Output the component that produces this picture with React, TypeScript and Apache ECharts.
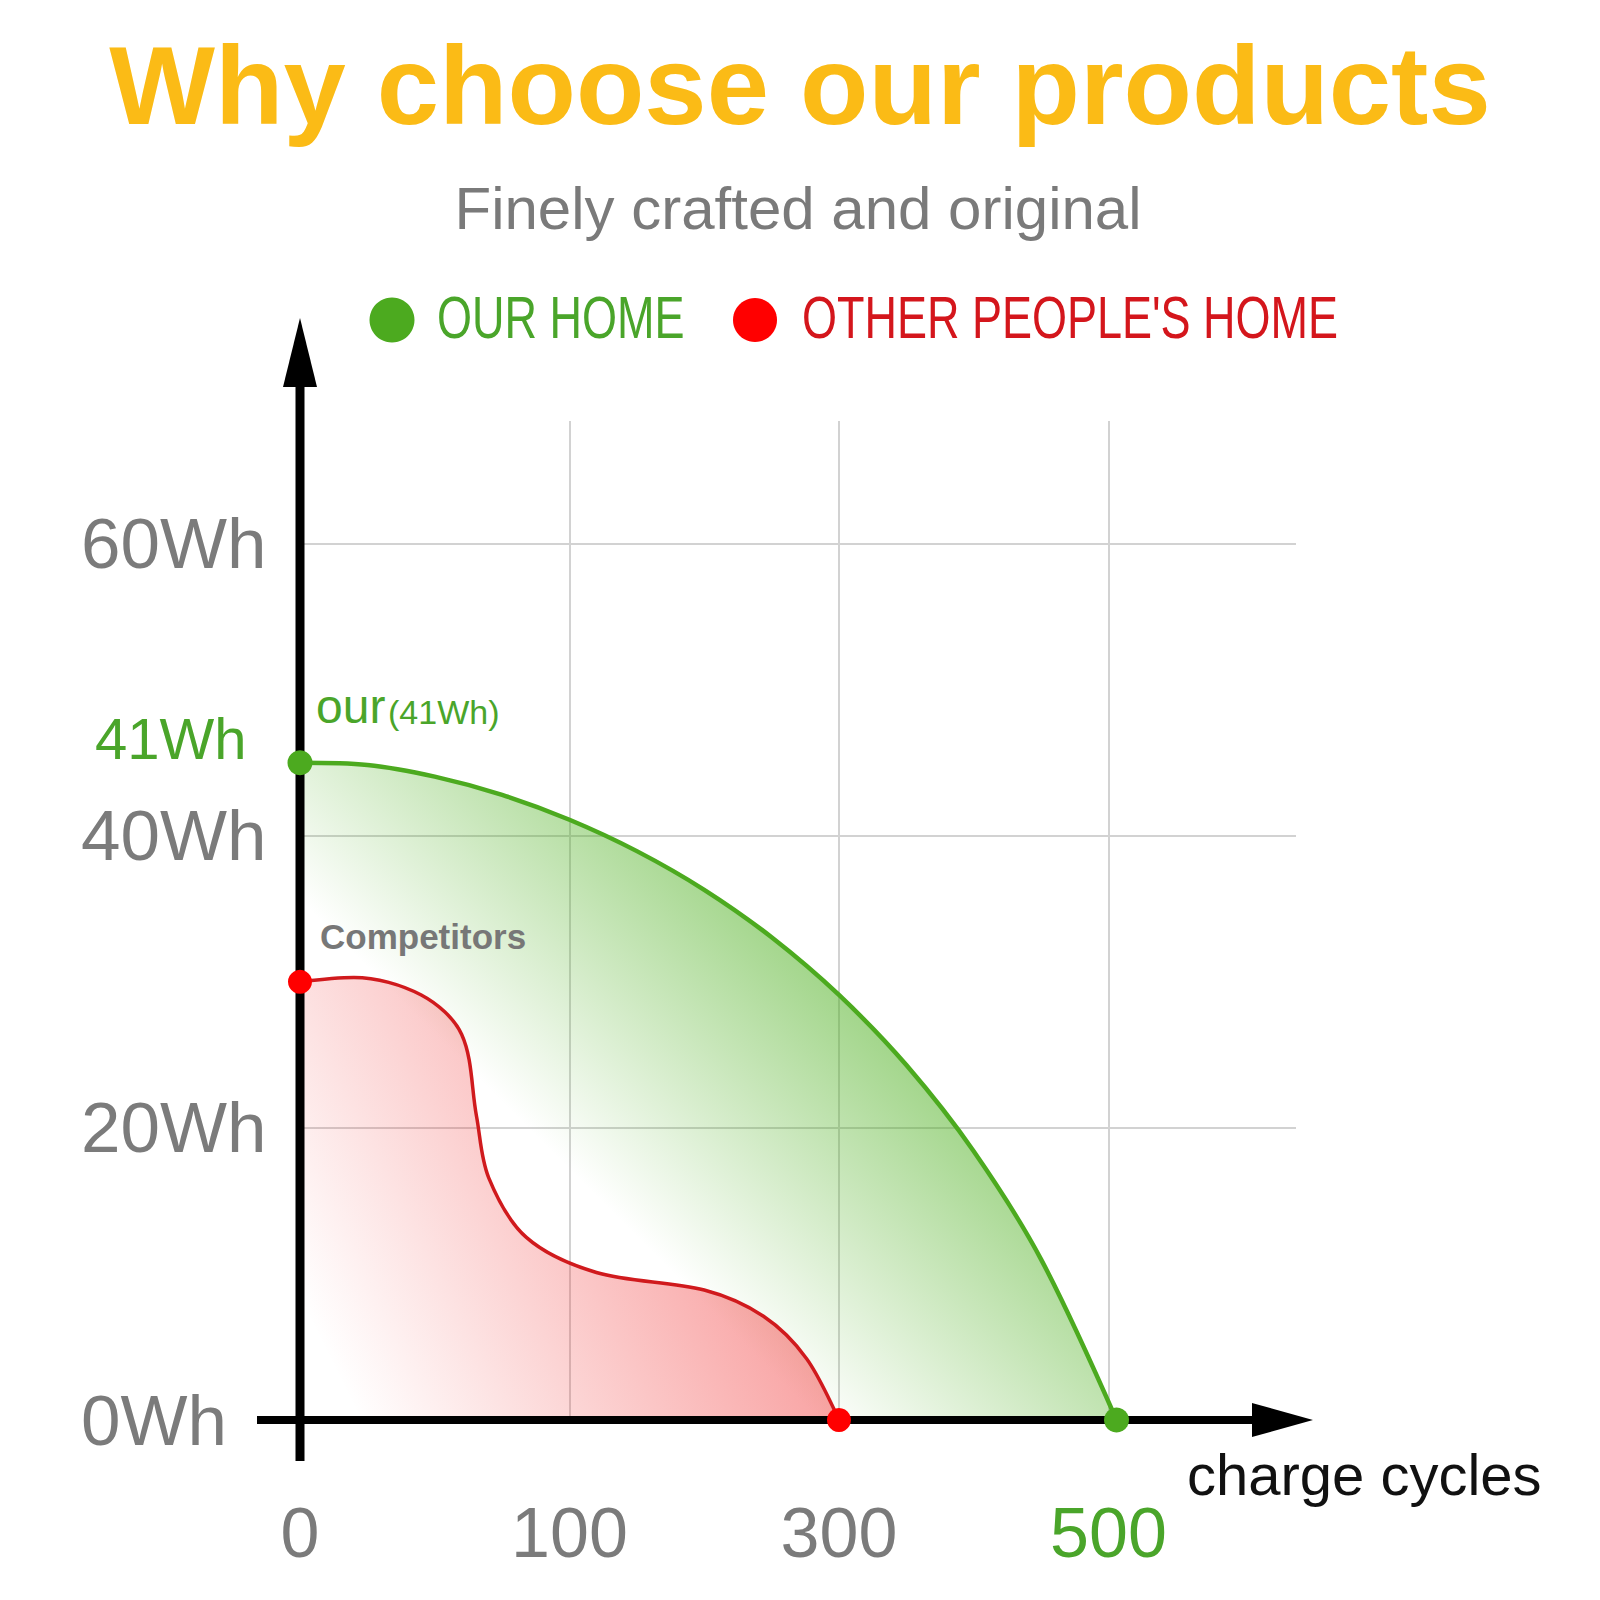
import React, { useEffect, useRef } from "react";
import * as echarts from "echarts";

// Tick labels (x axis is drawn in tick slots: slot 0 -> "0", 1 -> "100", 2 -> "300", 3 -> "500")
const xTickLabels = ["0", "100", "300", "500"];
const yTickLabels = ["0Wh", "20Wh", "40Wh", "60Wh"];
const seriesNames = ["OUR HOME", "OTHER PEOPLE'S HOME"];

// OUR HOME curve (x in tick slots, y in Wh as drawn)
const ourX = [0, 0.25, 0.5, 0.75, 1.0, 1.25, 1.5, 1.75, 2.0, 2.25, 2.5, 2.75, 3.03];
const ourWh = [45, 44.85, 44.05, 42.8, 41.1, 38.95, 36.3, 33.05, 29.1, 24.3, 18.4, 11.0, 0];

// OTHER PEOPLE'S HOME curve
const theirX = [0, 0.2, 0.45, 0.6, 0.655, 0.7, 0.84, 1.1, 1.5, 1.72, 1.88, 2.0];
const theirWh = [30, 30.3, 29.1, 26.4, 20.8, 16.6, 12.5, 10.1, 8.9, 7.1, 4.2, 0];

export default function App() {
  const ref = useRef<HTMLDivElement>(null);

  useEffect(() => {
    document.body.style.margin = "0";
    const chart = echarts.init(ref.current!, null, { renderer: "svg" });
    const font = "'Liberation Sans', Arial, Helvetica, sans-serif";
    const gray = "#7b7b7b";
    const green = "#4caa1f";
    const greenText = "#4aa52a";
    const red = "#ff0000";
    const redLine = "#d01a1d";
    const redText = "#d4161c";
    const n1 = ourX.length - 1;
    const n2 = theirX.length - 1;

    const txt = (text: string, x: number, y: number, size: number, fill: string, extra: any = {}, el: any = {}) => ({
      type: "text",
      x,
      y,
      z: 20,
      ...el,
      style: {
        text,
        fill,
        fontSize: size,
        fontFamily: font,
        align: "left",
        verticalAlign: "middle",
        ...extra,
      },
    });

    chart.setOption({
      animation: false,
      backgroundColor: "#ffffff",
      grid: { left: 300, top: 421, width: 996, height: 999, outerBoundsMode: "none" },
      xAxis: {
        type: "value",
        min: 0,
        max: 3.696,
        interval: 1,
        axisLine: { show: false },
        axisTick: { show: false },
        splitLine: {
          show: true,
          showMinLine: false,
          showMaxLine: false,
          lineStyle: { color: "#d2d2d2", width: 2 },
        },
        axisLabel: {
          showMaxLabel: false,
          margin: 78,
          formatter: (v: number) => {
            const i = Math.round(v);
            if (Math.abs(v - i) > 1e-6 || !xTickLabels[i]) return "";
            return i === xTickLabels.length - 1 ? `{g|${xTickLabels[i]}}` : `{d|${xTickLabels[i]}}`;
          },
          rich: {
            d: { fontSize: 70, color: gray, fontFamily: font, lineHeight: 70 },
            g: { fontSize: 70, color: greenText, fontFamily: font, lineHeight: 70 },
          },
        },
      },
      yAxis: {
        type: "value",
        min: 0,
        max: 68.4,
        interval: 20,
        axisLine: { show: false },
        axisTick: { show: false },
        splitLine: {
          show: true,
          showMinLine: false,
          showMaxLine: false,
          lineStyle: { color: "#d2d2d2", width: 2 },
        },
        axisLabel: {
          showMaxLabel: false,
          align: "left",
          margin: 219,
          fontSize: 71,
          color: gray,
          fontFamily: font,
          formatter: (v: number) => {
            const i = Math.round(v / 20);
            if (Math.abs(v - i * 20) > 1e-6) return "";
            return yTickLabels[i] ?? "";
          },
        },
      },
      series: [
        {
          name: seriesNames[0],
          type: "line",
          data: ourX.map((x, i) => [x, ourWh[i]]),
          smooth: 0.33,
          symbol: "none",
          z: 2,
          lineStyle: { color: green, width: 4.5 },
          areaStyle: {
            opacity: 1,
            color: {
              type: "linear",
              x: 300,
              y: 900,
              x2: 525,
              y2: 675,
              global: true,
              colorStops: [
                { offset: 0, color: "rgba(76,175,30,0)" },
                { offset: 1, color: "rgba(76,175,30,0.52)" },
              ],
            },
          },
        },
        {
          name: seriesNames[1],
          type: "line",
          data: theirX.map((x, i) => [x, theirWh[i]]),
          smooth: 0.33,
          symbol: "none",
          z: 3,
          lineStyle: { color: redLine, width: 3.5 },
          areaStyle: {
            opacity: 1,
            color: {
              type: "linear",
              x: 340,
              y: 1380,
              x2: 720,
              y2: 1190,
              global: true,
              colorStops: [
                { offset: 0, color: "rgba(240,40,40,0)" },
                { offset: 1, color: "rgba(240,40,40,0.42)" },
              ],
            },
          },
        },
        {
          name: seriesNames[0] + " ends",
          type: "scatter",
          z: 10,
          symbolSize: 25,
          itemStyle: { color: green, opacity: 1 },
          data: [
            [ourX[0], ourWh[0]],
            [ourX[n1], ourWh[n1]],
          ],
        },
        {
          name: seriesNames[1] + " ends",
          type: "scatter",
          z: 10,
          symbolSize: 24,
          itemStyle: { color: red, opacity: 1 },
          data: [
            [theirX[0], theirWh[0]],
            [theirX[n2], theirWh[n2]],
          ],
        },
      ],
      graphic: [
        // axes
        {
          type: "line",
          z: 5,
          shape: { x1: 300, y1: 1461, x2: 300, y2: 385 },
          style: { stroke: "#000", lineWidth: 9 },
        },
        {
          type: "polygon",
          z: 5,
          shape: { points: [[283, 387], [317, 387], [300, 318]] },
          style: { fill: "#000" },
        },
        {
          type: "line",
          z: 5,
          shape: { x1: 257, y1: 1420, x2: 1255, y2: 1420 },
          style: { stroke: "#000", lineWidth: 8 },
        },
        {
          type: "polygon",
          z: 5,
          shape: { points: [[1252, 1403], [1252, 1437], [1313, 1420]] },
          style: { fill: "#000" },
        },
        // title & subtitle
        txt("Why choose our products", 800, 85, 112, "#fbbb16", { align: "center", fontWeight: "bold" }),
        txt("Finely crafted and original", 798, 208, 60, "#7a7a7a", { align: "center" }),
        // legend
        { type: "circle", z: 20, shape: { cx: 392, cy: 320, r: 22.5 }, style: { fill: green } },
        txt(seriesNames[0], 437, 317, 60, greenText, {}, { scaleX: 0.75 }),
        { type: "circle", z: 20, shape: { cx: 755, cy: 320, r: 22 }, style: { fill: red } },
        txt(seriesNames[1], 802, 317, 60, redText, {}, { scaleX: 0.75 }),
        // annotations
        txt("41Wh", 95, 738, 58, greenText),
        txt("our", 316, 706, 48, greenText),
        txt("(41Wh)", 388, 712, 34, greenText),
        txt("Competitors", 320, 936, 35, "#777777", { fontWeight: "bold" }),
        txt("charge cycles", 1187, 1474, 58, "#111111"),
      ],
    });

    return () => chart.dispose();
  }, []);

  return <div ref={ref} style={{ width: 1600, height: 1600 }} />;
}
